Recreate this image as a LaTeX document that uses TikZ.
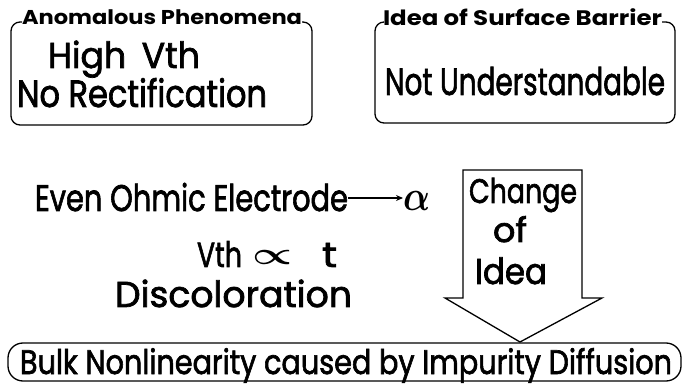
\documentclass[tikz,border=0pt]{standalone}
\usepackage{fontspec}
\setmainfont{Poppins}[BoldFont=Poppins, BoldFeatures={FakeBold=2}]
\newfontfamily\titlefont{Poppins}[BoldFont=Poppins Bold]
\usetikzlibrary{arrows.meta,calc}
\newcommand\fw[2]{\resizebox{#1}{\height}{#2}}
\newcommand\fs[1]{\fontsize{#1}{#1}\selectfont\bfseries}
\begin{document}
\begin{tikzpicture}[x=1pt,y=1pt,
  lbl/.style={inner sep=0pt,outer sep=0pt,anchor=base west},
  boxline/.style={line width=1.3pt,rounded corners=9pt},
  conn/.style={line width=1.3pt}]
\useasboundingbox (0,0) rectangle (684,385);
% box 1
\node[lbl,font=\titlefont\fontsize{20}{20}\selectfont\bfseries] (t1) at (22,360) {\fw{280pt}{Anomalous Phenomena}};
\node[lbl,font=\fs{36}] (high) at (48,317) {\fw{152pt}{High\hspace{0.45em}Vth}};
\node[lbl,font=\fs{38}] (norect) at (17,278) {\fw{250pt}{No Rectification}};
\draw[boxline] ([yshift=3pt]t1.base west) -- (11,363) -- (11,260) -- (312,260) -- (312,363) -- ([yshift=3pt]t1.base east);
% box 2
\node[lbl,font=\titlefont\fontsize{21}{21}\selectfont\bfseries] (t2) at (383,359) {\fw{279pt}{Idea of Surface Barrier}};
\node[lbl,font=\fs{38}] (notu) at (385,290) {\fw{280pt}{Not Understandable}};
\draw[boxline] ([yshift=4pt]t2.base west) -- (375,363) -- (375,262) -- (675,262) -- (675,363) -- ([yshift=4pt]t2.base east);
% middle
\node[lbl,font=\fs{37}] (even) at (35,174) {\fw{313pt}{Even Ohmic Electrode}};
\node[lbl] (alpha) at (403,174) {\resizebox{27pt}{19pt}{\boldmath$\alpha$}};
\draw[conn,-{Stealth[length=7pt,width=6pt]}] (even.east |- 0,187) -- (alpha.west |- 0,187);
\node[lbl,font=\fs{35}] (vth) at (197,118) {\fw{45pt}{Vth}};
\node[inner sep=0pt] (prop) at (273,128) {\resizebox{40pt}{14pt}{\boldmath$\propto$}};
\node[lbl,font=\fs{35}] (tt) at (322,118) {\fw{15pt}{t}};
\node[lbl,font=\fs{36}] (disc) at (115,78) {\fw{237pt}{Discoloration}};
% block arrow
\draw[conn,line join=miter] (463,215) -- (582,215) -- (582,87) -- (602,87) -- (520,43) -- (445,87) -- (463,87) -- cycle;
\node[lbl,font=\fs{34}] (chg) at (469,182) {\fw{108pt}{Change}};
\node[lbl,font=\fs{34}] (of) at (493,143) {\fw{34pt}{of}};
\node[lbl,font=\fs{36}] (idea) at (475,101) {\fw{72pt}{Idea}};
% bottom
\node[lbl,font=\fs{34}] (bulk) at (20,11) {\fw{652pt}{Bulk Nonlinearity caused by Impurity Diffusion}};
\draw[conn,rounded corners=15pt] (8,4) rectangle (681,42);
\end{tikzpicture}
\end{document}
